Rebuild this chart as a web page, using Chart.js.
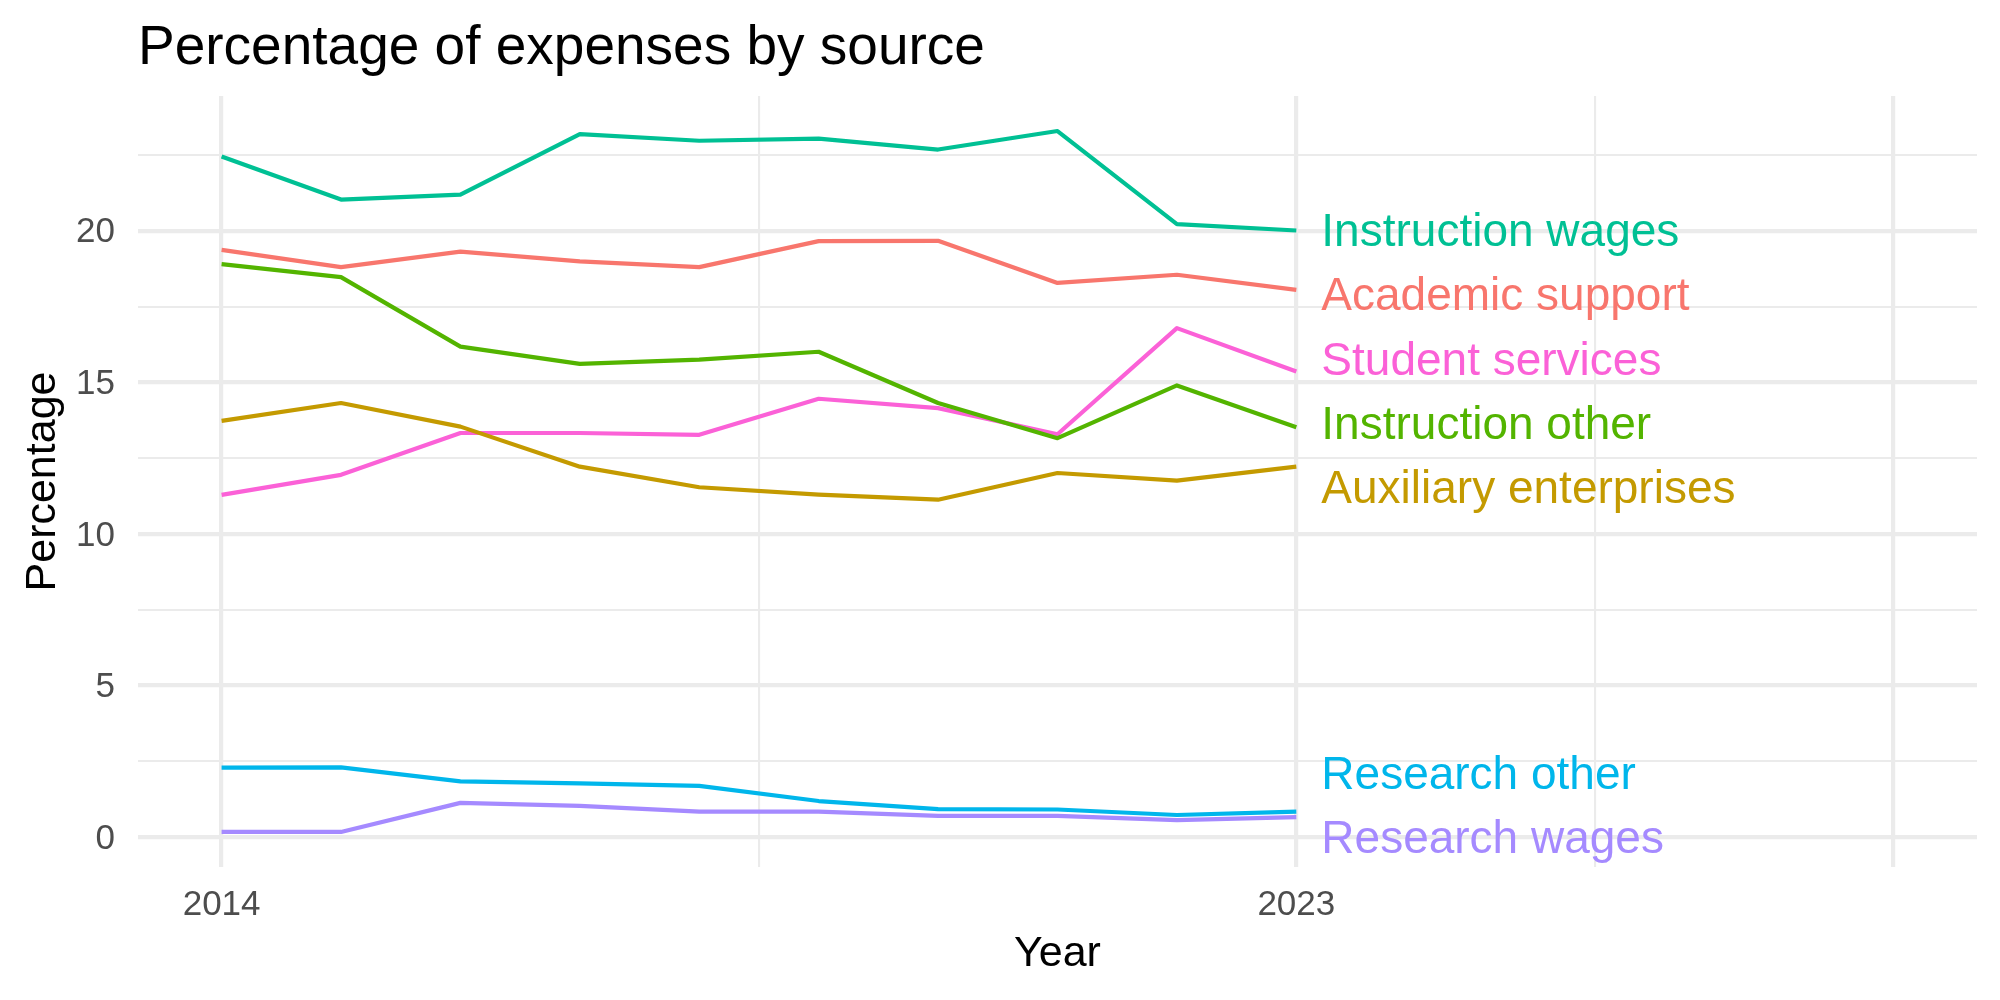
<!DOCTYPE html>
<html>
<head>
<meta charset="utf-8">
<script src="https://cdn.jsdelivr.net/npm/chart.js@4/dist/chart.umd.min.js"></script>
<style>
  html, body { margin: 0; padding: 0; background: #fff; }
  #wrap { width: 2000px; height: 1000px; }
</style>
</head>
<body>
<div id="wrap"><canvas id="chart" width="2000" height="1000"></canvas></div>
<script>
'use strict';

// data
const years = [2014, 2015, 2016, 2017, 2018, 2019, 2020, 2021, 2022, 2023];
const academicSupport      = [19.37, 18.80, 19.31, 18.99, 18.80, 19.66, 19.67, 18.28, 18.55, 18.05];
const auxiliaryEnterprises = [13.73, 14.32, 13.54, 12.22, 11.54, 11.30, 11.13, 12.01, 11.76, 12.22];
const instructionOther     = [18.90, 18.47, 16.18, 15.61, 15.75, 16.01, 14.32, 13.16, 14.90, 13.52];
const instructionWages     = [22.45, 21.03, 21.19, 23.19, 22.97, 23.04, 22.68, 23.29, 20.22, 20.01];
const researchOther        = [2.29, 2.30, 1.84, 1.77, 1.69, 1.19, 0.92, 0.91, 0.73, 0.84];
const researchWages        = [0.17, 0.17, 1.13, 1.03, 0.84, 0.84, 0.70, 0.70, 0.56, 0.66];
const studentServices      = [11.29, 11.95, 13.33, 13.33, 13.27, 14.46, 14.15, 13.29, 16.79, 15.36];

const seriesNames = ['Academic support', 'Auxiliary enterprises', 'Instruction other',
  'Instruction wages', 'Research other', 'Research wages', 'Student services'];
const seriesValues = [academicSupport, auxiliaryEnterprises, instructionOther,
  instructionWages, researchOther, researchWages, studentServices];
const seriesColors = ['#F8766D', '#C49A00', '#53B400', '#00C094', '#00B6EB', '#A58AFF', '#FB61D7'];

const xBreaks = [2014, 2023, 2028];
const xLabels = ['2014', '2023', ''];
const xLimits = [2014, 2028];
const yBreaks = [0, 5, 10, 15, 20];

const FONT = '"Liberation Sans", Arial, Helvetica, sans-serif';
const GRID = '#EBEBEB';
const MAJOR_W = 4.2;
const MINOR_W = 2.1;

// ggplot-like 5% expansion
function expand(lo, hi) {
  const pad = (hi - lo) * 0.05;
  return [lo - pad, hi + pad];
}
const allValues = seriesValues.flat();
const [yMin, yMax] = expand(Math.min(...allValues), Math.max(...allValues));
const [xMin, xMax] = expand(xLimits[0], xLimits[1]);

// majors plus midpoints between them
function withMinors(majors) {
  const out = [];
  majors.forEach((v, i) => {
    if (i > 0) out.push({ value: (majors[i - 1] + v) / 2 });
    out.push({ value: v });
  });
  return out;
}

// end labels, pushed apart like ggrepel would
const endLabels = {
  id: 'endLabels',
  afterDatasetsDraw(chart) {
    const { ctx, chartArea, scales } = chart;
    const gap = 64;
    const lo = chartArea.top + gap / 2;
    const hi = chartArea.bottom - gap / 2;
    const items = chart.data.datasets.map((ds, i) => {
      const pts = chart.getDatasetMeta(i).data;
      return { text: ds.label, color: ds.borderColor, y: pts[pts.length - 1].y };
    }).sort((a, b) => a.y - b.y);

    let groups = items.map(it => ({ items: [it] }));
    const place = g => {
      const mean = g.items.reduce((s, it) => s + it.y, 0) / g.items.length;
      const span = (g.items.length - 1) * gap;
      let start = mean - span / 2;
      start = Math.min(Math.max(start, lo), hi - span);
      g.start = start;
      g.end = start + span;
    };
    groups.forEach(place);
    let merged = true;
    while (merged) {
      merged = false;
      for (let i = 0; i < groups.length - 1; i++) {
        if (groups[i].end + gap > groups[i + 1].start) {
          groups[i].items = groups[i].items.concat(groups[i + 1].items);
          groups.splice(i + 1, 1);
          place(groups[i]);
          merged = true;
          break;
        }
      }
    }

    const x = scales.x.getPixelForValue(years[years.length - 1]) + 25;
    ctx.save();
    ctx.font = '46px ' + FONT;
    ctx.textAlign = 'left';
    ctx.textBaseline = 'middle';
    groups.forEach(g => {
      g.items.forEach((it, k) => {
        ctx.fillStyle = it.color;
        ctx.fillText(it.text, x, g.start + k * gap + 5);
      });
    });
    ctx.restore();
  }
};

const ctx = document.getElementById('chart').getContext('2d');
new Chart(ctx, {
  type: 'line',
  data: {
    datasets: seriesNames.map((name, i) => ({
      label: name,
      data: years.map((yr, j) => ({ x: yr, y: seriesValues[i][j] })),
      borderColor: seriesColors[i],
      backgroundColor: seriesColors[i],
      borderWidth: 4.2,
      borderJoinStyle: 'round',
      pointRadius: 0,
      pointHoverRadius: 0,
      tension: 0,
      fill: false
    }))
  },
  options: {
    responsive: false,
    devicePixelRatio: 1,
    animation: false,
    events: [],
    layout: { padding: { left: 0, right: 23, top: 0, bottom: 0 } },
    plugins: {
      legend: { display: false },
      tooltip: { enabled: false },
      title: {
        display: true,
        text: 'Percentage of expenses by source',
        align: 'start',
        fullSize: false,
        color: '#000',
        font: { family: FONT, size: 55, weight: 'normal' },
        padding: { top: 16, bottom: 14 }
      }
    },
    scales: {
      x: {
        type: 'linear',
        min: xMin,
        max: xMax,
        afterBuildTicks: scale => { scale.ticks = withMinors(xBreaks); },
        afterFit: scale => { scale.height = 133; },
        ticks: {
          autoSkip: false,
          maxRotation: 0,
          padding: 17,
          color: '#4D4D4D',
          font: { family: FONT, size: 35 },
          callback: value => {
            const i = xBreaks.indexOf(value);
            return i >= 0 ? xLabels[i] : '';
          }
        },
        grid: {
          color: GRID,
          drawTicks: false,
          lineWidth: c => xBreaks.includes(c.tick.value) ? MAJOR_W : MINOR_W
        },
        border: { display: false },
        title: {
          display: true,
          text: 'Year',
          color: '#000',
          font: { family: FONT, size: 43 },
          padding: { top: 0, bottom: 20 }
        }
      },
      y: {
        type: 'linear',
        min: yMin,
        max: yMax,
        afterBuildTicks: scale => { scale.ticks = withMinors(yBreaks.concat([yBreaks[yBreaks.length - 1] + 5])).filter(t => t.value <= yMax); },
        afterFit: scale => { scale.width = 138; },
        ticks: {
          autoSkip: false,
          padding: 23,
          labelOffset: 2,
          color: '#4D4D4D',
          font: { family: FONT, size: 35 },
          callback: value => yBreaks.includes(value) ? String(value) : ''
        },
        grid: {
          color: GRID,
          drawTicks: false,
          lineWidth: c => yBreaks.includes(c.tick.value) ? MAJOR_W : MINOR_W
        },
        border: { display: false },
        title: {
          display: true,
          text: 'Percentage',
          color: '#000',
          font: { family: FONT, size: 43 },
          padding: { top: 17, bottom: 0 }
        }
      }
    }
  },
  plugins: [endLabels]
});
</script>
</body>
</html>
